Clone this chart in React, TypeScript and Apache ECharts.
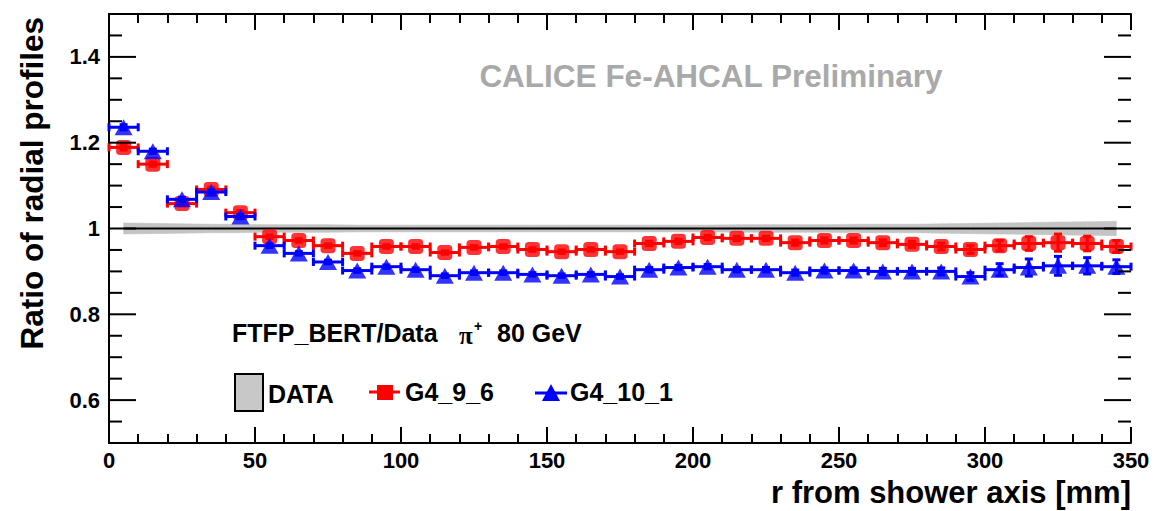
import React, { useEffect, useRef } from "react";
import * as echarts from "echarts";

// ---- data ----
const rCenters = [5, 15, 25, 35, 45, 55, 65, 75, 85, 95, 105, 115, 125, 135, 145, 155, 165, 175, 185, 195, 205, 215, 225, 235, 245, 255, 265, 275, 285, 295, 305, 315, 325, 335, 345];
const binHalfWidth = 5;

const g4_9_6 = [1.189, 1.150, 1.058, 1.091, 1.037, 0.981, 0.972, 0.960, 0.942, 0.958, 0.958, 0.944, 0.956, 0.958, 0.951, 0.946, 0.951, 0.946, 0.965, 0.970, 0.979, 0.977, 0.977, 0.967, 0.972, 0.972, 0.967, 0.963, 0.958, 0.951, 0.960, 0.965, 0.967, 0.965, 0.958];
const g4_9_6_err = [0.006, 0.005, 0.005, 0.005, 0.005, 0.004, 0.004, 0.004, 0.004, 0.004, 0.004, 0.004, 0.004, 0.004, 0.004, 0.004, 0.004, 0.004, 0.005, 0.005, 0.005, 0.005, 0.005, 0.006, 0.006, 0.006, 0.007, 0.007, 0.008, 0.009, 0.012, 0.016, 0.020, 0.017, 0.014];

const g4_10_1 = [1.236, 1.180, 1.068, 1.085, 1.028, 0.960, 0.942, 0.922, 0.902, 0.911, 0.904, 0.890, 0.897, 0.897, 0.893, 0.890, 0.893, 0.888, 0.904, 0.909, 0.911, 0.904, 0.904, 0.897, 0.902, 0.902, 0.900, 0.900, 0.900, 0.888, 0.904, 0.909, 0.913, 0.913, 0.911];
const g4_10_1_err = [0.006, 0.005, 0.005, 0.005, 0.005, 0.004, 0.004, 0.004, 0.004, 0.004, 0.004, 0.004, 0.004, 0.004, 0.004, 0.004, 0.004, 0.004, 0.005, 0.005, 0.005, 0.005, 0.005, 0.006, 0.006, 0.006, 0.007, 0.007, 0.008, 0.009, 0.014, 0.020, 0.022, 0.019, 0.016];

const dataRatio = [1, 1, 1, 1, 1, 1, 1, 1, 1, 1, 1, 1, 1, 1, 1, 1, 1, 1, 1, 1, 1, 1, 1, 1, 1, 1, 1, 1, 1, 1, 1, 1, 1, 1, 1];
const dataBandErr = [0.013, 0.012, 0.011, 0.010, 0.010, 0.009, 0.009, 0.009, 0.008, 0.008, 0.008, 0.008, 0.008, 0.008, 0.008, 0.008, 0.008, 0.008, 0.008, 0.008, 0.008, 0.009, 0.009, 0.009, 0.009, 0.010, 0.010, 0.010, 0.011, 0.012, 0.013, 0.014, 0.015, 0.016, 0.017];

const xTickMin = 0;
const xTickMax = 350;
const yMin = 0.5;
const yMax = 1.5;
const yMajorTicks = [0.6, 0.8, 1.0, 1.2, 1.4];
const yMinorTicks = [0.55, 0.65, 0.7, 0.75, 0.85, 0.9, 0.95, 1.05, 1.1, 1.15, 1.25, 1.3, 1.35, 1.45];

const FONT = '"Liberation Sans", Arial, Helvetica, sans-serif';
const RED = "#ff0000";
const BLUE = "#0000ff";

function errorBarRenderer(color: string) {
  return (params: any, api: any) => {
    const x = api.value(0);
    const y = api.value(1);
    const ey = api.value(2);
    const pL = api.coord([x - binHalfWidth, y]);
    const pR = api.coord([x + binHalfWidth, y]);
    const pT = api.coord([x, y + ey]);
    const pB = api.coord([x, y - ey]);
    const cap = 4;
    const style = { stroke: color, lineWidth: 3 };
    return {
      type: "group",
      children: [
        { type: "line", shape: { x1: pL[0], y1: pL[1], x2: pR[0], y2: pR[1] }, style },
        { type: "line", shape: { x1: pL[0], y1: pL[1] - cap, x2: pL[0], y2: pL[1] + cap }, style },
        { type: "line", shape: { x1: pR[0], y1: pR[1] - cap, x2: pR[0], y2: pR[1] + cap }, style },
        { type: "line", shape: { x1: pT[0], y1: pT[1], x2: pB[0], y2: pB[1] }, style },
        { type: "line", shape: { x1: pT[0] - cap, y1: pT[1], x2: pT[0] + cap, y2: pT[1] }, style },
        { type: "line", shape: { x1: pB[0] - cap, y1: pB[1], x2: pB[0] + cap, y2: pB[1] }, style },
      ],
    };
  };
}

function bandRenderer(params: any, api: any) {
  const i = params.dataIndex;
  if (i >= rCenters.length - 1) return null;
  const x0 = rCenters[i];
  const x1 = rCenters[i + 1];
  const lo0 = api.coord([x0, dataRatio[i] - dataBandErr[i]]);
  const hi0 = api.coord([x0, dataRatio[i] + dataBandErr[i]]);
  const lo1 = api.coord([x1, dataRatio[i + 1] - dataBandErr[i + 1]]);
  const hi1 = api.coord([x1, dataRatio[i + 1] + dataBandErr[i + 1]]);
  return {
    type: "polygon",
    shape: { points: [lo0, lo1, hi1, hi0] },
    style: { fill: "#c4c4c4", stroke: "#c4c4c4", lineWidth: 0.5 },
  };
}

// y-axis ticks (left and right frame, pointing inward), placed through the y scale
function yTickRenderer(params: any, api: any) {
  const v = api.value(0);
  const len = api.value(1);
  const pL = api.coord([xTickMin, v]);
  const pR = api.coord([xTickMax, v]);
  const style = { stroke: "#000", lineWidth: 2 };
  return {
    type: "group",
    children: [
      { type: "line", shape: { x1: pL[0], y1: pL[1], x2: pL[0] + len, y2: pL[1] }, style },
      { type: "line", shape: { x1: pR[0], y1: pR[1], x2: pR[0] - len, y2: pR[1] }, style },
    ],
  };
}

export default function App() {
  const ref = useRef<HTMLDivElement>(null);

  useEffect(() => {
    if (!ref.current) return;
    const chart = echarts.init(ref.current, null, { renderer: "svg" });

    const axisLineStyle = { color: "#000", width: 2 };
    const tickLine = { color: "#000", width: 2 };
    const labelStyle = { fontFamily: FONT, fontSize: 22, fontWeight: "bold", color: "#000" };

    const tickData = [
      ...yMajorTicks.map((v) => [v, 27]),
      ...yMinorTicks.map((v) => [v, 13]),
    ];

    const option: any = {
      animation: false,
      backgroundColor: "#ffffff",
      grid: { left: 109, right: 27, top: 14, bottom: 68, containLabel: false },
      xAxis: [
        {
          type: "value",
          position: "bottom",
          min: xTickMin,
          max: xTickMax,
          interval: 50,
          axisLine: { show: true, lineStyle: axisLineStyle },
          axisTick: { show: true, inside: true, length: 16, lineStyle: tickLine },
          minorTick: { show: true, splitNumber: 5, length: 9, lineStyle: tickLine },
          axisLabel: { ...labelStyle, margin: 6 },
          splitLine: { show: false },
          minorSplitLine: { show: false },
          name: "r from shower axis [mm]",
          nameLocation: "end",
          nameGap: 0,
          nameTextStyle: {
            fontFamily: FONT,
            fontSize: 31,
            fontWeight: "bold",
            color: "#000",
            align: "right",
            verticalAlign: "top",
            padding: [34, 0, 0, 0],
          },
        },
        {
          type: "value",
          position: "top",
          min: xTickMin,
          max: xTickMax,
          interval: 50,
          axisLine: { show: true, lineStyle: axisLineStyle },
          axisTick: { show: true, inside: true, length: 16, lineStyle: tickLine },
          minorTick: { show: true, splitNumber: 5, length: 9, lineStyle: tickLine },
          axisLabel: { show: false },
          splitLine: { show: false },
          minorSplitLine: { show: false },
        },
      ],
      yAxis: [
        {
          type: "value",
          position: "left",
          min: yMin,
          max: yMax,
          axisLine: { show: true, lineStyle: axisLineStyle },
          axisTick: { show: false },
          axisLabel: { ...labelStyle, margin: 9, customValues: yMajorTicks },
          splitLine: { show: false },
        },
        {
          type: "value",
          position: "right",
          min: yMin,
          max: yMax,
          axisLine: { show: true, lineStyle: axisLineStyle },
          axisTick: { show: false },
          axisLabel: { show: false },
          splitLine: { show: false },
        },
      ],
      series: [
        {
          name: "y ticks",
          type: "custom",
          renderItem: yTickRenderer,
          data: tickData,
          silent: true,
          clip: false,
          z: 10,
        },
        {
          name: "DATA band",
          type: "custom",
          renderItem: bandRenderer,
          data: rCenters.map((r, i) => [r, dataRatio[i], dataBandErr[i]]),
          silent: true,
          z: 1,
        },
        {
          name: "DATA",
          type: "line",
          data: rCenters.map((r, i) => [r, dataRatio[i]]),
          symbol: "none",
          lineStyle: { color: "#000", width: 2 },
          silent: true,
          z: 2,
        },
        {
          name: "G4_9_6 errors",
          type: "custom",
          renderItem: errorBarRenderer(RED),
          data: rCenters.map((r, i) => [r, g4_9_6[i], g4_9_6_err[i]]),
          z: 3,
        },
        {
          name: "G4_9_6",
          type: "scatter",
          data: rCenters.map((r, i) => [r, g4_9_6[i]]),
          symbol: "roundRect",
          symbolSize: 15,
          itemStyle: { color: RED },
          z: 4,
        },
        {
          name: "G4_10_1 errors",
          type: "custom",
          renderItem: errorBarRenderer(BLUE),
          data: rCenters.map((r, i) => [r, g4_10_1[i], g4_10_1_err[i]]),
          z: 5,
        },
        {
          name: "G4_10_1",
          type: "scatter",
          data: rCenters.map((r, i) => [r, g4_10_1[i]]),
          symbol: "triangle",
          symbolSize: [18, 16],
          itemStyle: { color: BLUE },
          z: 6,
        },
      ],
      graphic: [
        {
          type: "text",
          x: 32,
          y: 17,
          rotation: Math.PI / 2,
          style: {
            text: "Ratio of radial profiles",
            fontFamily: FONT,
            fontSize: 31.5,
            fontWeight: "bold",
            fill: "#000",
            align: "right",
            verticalAlign: "middle",
          },
        },
        {
          type: "text",
          x: 711,
          y: 76,
          style: {
            text: "CALICE Fe-AHCAL Preliminary",
            fontFamily: FONT,
            fontSize: 31.5,
            fontWeight: "bold",
            fill: "#a9a9a9",
            align: "center",
            verticalAlign: "middle",
          },
        },
        {
          type: "text",
          x: 232,
          y: 333,
          style: { text: "FTFP_BERT/Data", fontFamily: FONT, fontSize: 25, fontWeight: "bold", fill: "#000", align: "left", verticalAlign: "middle" },
        },
        {
          type: "text",
          x: 459,
          y: 335,
          style: { text: "π", fontFamily: '"Liberation Serif", "DejaVu Serif", serif', fontSize: 25, fontWeight: "bold", fill: "#000", align: "left", verticalAlign: "middle" },
        },
        {
          type: "text",
          x: 474,
          y: 326,
          style: { text: "+", fontFamily: FONT, fontSize: 14, fontWeight: "bold", fill: "#000", align: "left", verticalAlign: "middle" },
        },
        {
          type: "text",
          x: 497,
          y: 333,
          style: { text: "80 GeV", fontFamily: FONT, fontSize: 25, fontWeight: "bold", fill: "#000", align: "left", verticalAlign: "middle" },
        },
        // legend: DATA
        {
          type: "rect",
          shape: { x: 235, y: 374, width: 28, height: 37 },
          style: { fill: "#c8c8c8", stroke: "#000", lineWidth: 2 },
        },
        {
          type: "text",
          x: 268,
          y: 394,
          style: { text: "DATA", fontFamily: FONT, fontSize: 25, fontWeight: "bold", fill: "#000", align: "left", verticalAlign: "middle" },
        },
        // legend: G4_9_6
        {
          type: "line",
          shape: { x1: 369, y1: 392, x2: 400, y2: 392 },
          style: { stroke: RED, lineWidth: 3 },
        },
        {
          type: "rect",
          shape: { x: 377, y: 385, width: 16, height: 15 },
          style: { fill: RED },
        },
        {
          type: "text",
          x: 405,
          y: 392,
          style: { text: "G4_9_6", fontFamily: FONT, fontSize: 25, fontWeight: "bold", fill: "#000", align: "left", verticalAlign: "middle" },
        },
        // legend: G4_10_1
        {
          type: "line",
          shape: { x1: 535, y1: 393, x2: 567, y2: 393 },
          style: { stroke: BLUE, lineWidth: 3 },
        },
        {
          type: "polygon",
          shape: { points: [[551, 384], [542, 401], [560, 401]] },
          style: { fill: BLUE },
        },
        {
          type: "text",
          x: 570,
          y: 392,
          style: { text: "G4_10_1", fontFamily: FONT, fontSize: 25, fontWeight: "bold", fill: "#000", align: "left", verticalAlign: "middle" },
        },
      ],
    };

    chart.setOption(option);
    return () => {
      chart.dispose();
    };
  }, []);

  return (
    <div
      ref={ref}
      style={{ position: "absolute", left: 0, top: 0, width: 1158, height: 511, background: "#fff" }}
    />
  );
}
